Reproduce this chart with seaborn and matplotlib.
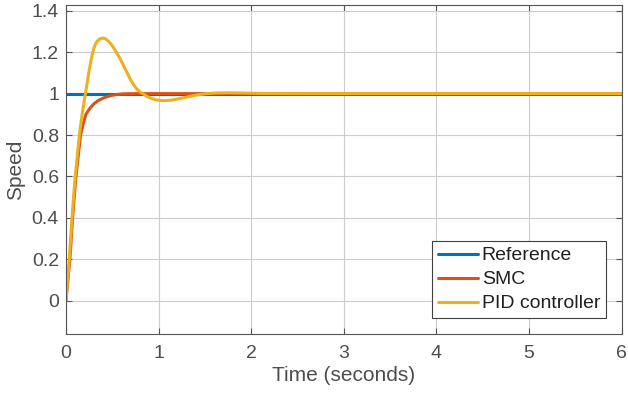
import numpy as np
import pandas as pd
import matplotlib
matplotlib.use("Agg")
import matplotlib.pyplot as plt
import seaborn as sns

# ---- data ----
ref_t = [0.0, 6.0]
ref_y = [1.0, 1.0]

smc_t = [0.0, 0.043, 0.072, 0.108, 0.158, 0.19, 0.216, 0.26, 0.30, 0.35,
         0.41, 0.48, 0.55, 0.62, 0.75, 6.0]
smc_y = [0.0, 0.2, 0.4, 0.6, 0.8, 0.86, 0.9, 0.93, 0.95, 0.967,
         0.98, 0.99, 0.996, 0.999, 1.0, 1.0]

pid_t = [0.0, 0.036, 0.065, 0.10, 0.145, 0.175, 0.21, 0.23, 0.25, 0.27,
         0.29, 0.305, 0.32, 0.34, 0.365, 0.395, 0.425, 0.455, 0.49, 0.525,
         0.56, 0.60, 0.65, 0.70, 0.75, 0.80, 0.83, 0.87, 0.92, 0.97,
         1.02, 1.07, 1.13, 1.22, 1.32, 1.42, 1.52, 1.62, 1.75, 1.9,
         2.1, 2.4, 6.0]
pid_y = [0.0, 0.2, 0.4, 0.6, 0.8, 0.9, 1.0, 1.055, 1.11, 1.16,
         1.2, 1.223, 1.24, 1.254, 1.264, 1.268, 1.265, 1.255, 1.237, 1.214,
         1.188, 1.155, 1.11, 1.065, 1.03, 1.008, 1.0, 0.988, 0.977, 0.97,
         0.967, 0.966, 0.968, 0.975, 0.985, 0.994, 1.0, 1.003, 1.004, 1.003,
         1.001, 1.0, 1.0]

series_names = ["Reference", "SMC", "PID controller"]
colors = ["#0072BD", "#D95319", "#EDB120"]
x_ticks = [0, 1, 2, 3, 4, 5, 6]
y_ticks = [0, 0.2, 0.4, 0.6, 0.8, 1.0, 1.2, 1.4]
y_tick_labels = ["0", "0.2", "0.4", "0.6", "0.8", "1", "1.2", "1.4"]

frames = []
for name, t, y in zip(series_names, [ref_t, smc_t, pid_t], [ref_y, smc_y, pid_y]):
    frames.append(pd.DataFrame({"t": t, "y": y, "series": name}))
df = pd.concat(frames, ignore_index=True)

sns.set_theme(style="white")
plt.rcParams["font.family"] = ["Liberation Sans", "DejaVu Sans"]
text_color = "#4d4d4d"

fig = plt.figure(figsize=(6.28, 3.97), dpi=100)
ax = fig.add_axes([0.105, 0.159, 0.885, 0.828])

sns.lineplot(data=df, x="t", y="y", hue="series", hue_order=series_names,
             palette=colors, linewidth=2.2, ax=ax, sort=False, estimator=None)

ax.set_xlim(0, 6)
ax.set_ylim(-0.16, 1.427)
ax.set_xticks(x_ticks)
ax.set_yticks(y_ticks)
ax.set_yticklabels(y_tick_labels)
ax.grid(True, color="#cccccc", linewidth=0.8)
ax.set_axisbelow(True)
for s in ax.spines.values():
    s.set_visible(True)
    s.set_color("#555555")
    s.set_linewidth(0.8)
ax.tick_params(axis="both", which="both", direction="in", length=4, width=0.8,
               colors="#555555", labelcolor=text_color, labelsize=14,
               top=True, right=True, bottom=True, left=True)
ax.tick_params(axis="y", pad=5)
ax.tick_params(axis="x", pad=8)
ax.set_xlabel("Time (seconds)", fontsize=15, color=text_color, labelpad=3)
ax.set_ylabel("Speed", fontsize=15, color=text_color, labelpad=5)

leg = ax.legend(loc="lower right", fontsize=14, frameon=True, fancybox=False,
                framealpha=1, edgecolor="#404040", handlelength=2.05,
                borderaxespad=0.8, borderpad=0.3, labelspacing=0.33,
                handletextpad=0.2)
leg.get_frame().set_linewidth(0.8)
for txt in leg.get_texts():
    txt.set_color("#202020")

fig.savefig("out.png", dpi=100)
